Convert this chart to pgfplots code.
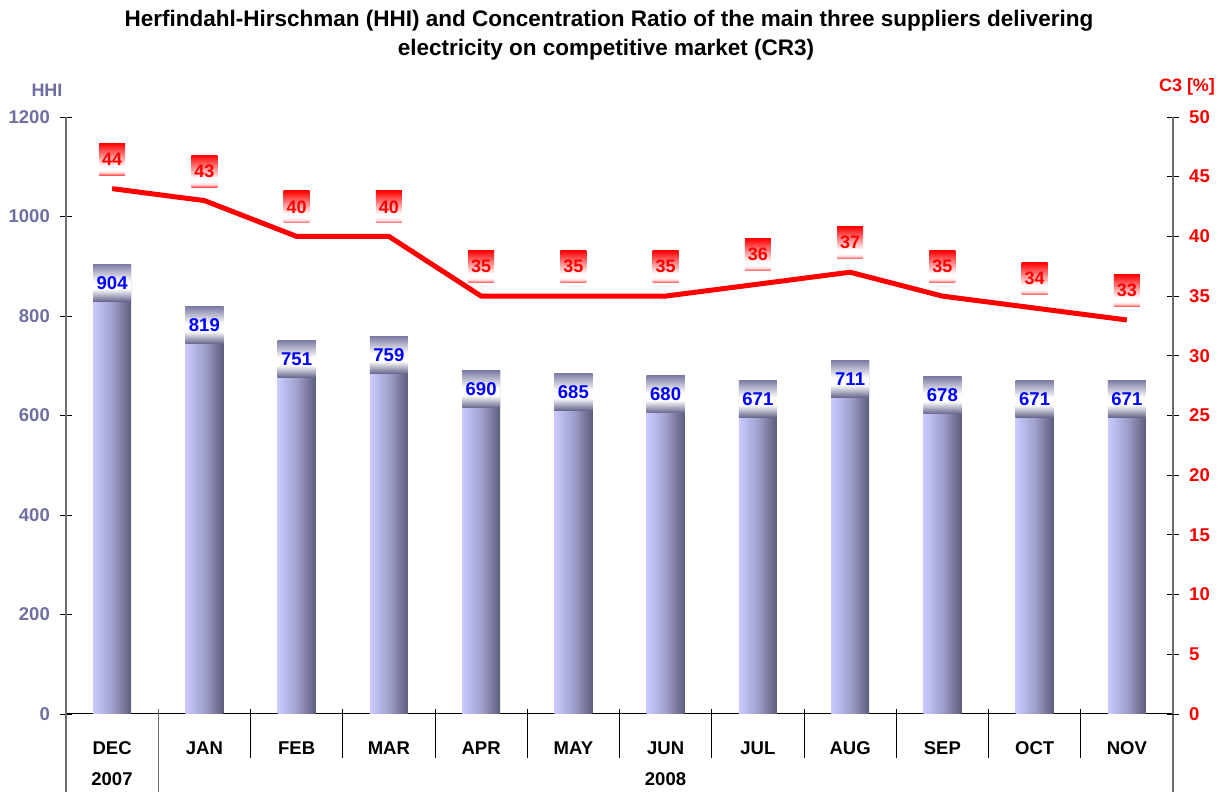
\documentclass[border=0pt]{standalone}
\usepackage{pgfplots}
\pgfplotsset{compat=1.18}
\usepackage{fontspec}
\setmainfont{Liberation Sans}
\definecolor{hhi}{RGB}{110,110,160}
\definecolor{barlight}{RGB}{202,202,255}
\definecolor{barmid}{RGB}{160,160,205}
\definecolor{bardark}{RGB}{92,92,122}
\definecolor{boxdark}{RGB}{100,100,140}
\definecolor{boxtop}{RGB}{125,125,165}
\definecolor{axisgray}{RGB}{110,110,110}
\pgfdeclarehorizontalshading{barshade}{100bp}{color(0bp)=(barlight); color(25bp)=(barlight); color(50bp)=(barmid); color(75bp)=(bardark); color(100bp)=(bardark)}
\pgfdeclareverticalshading{bluebox}{100bp}{color(0bp)=(boxdark); color(25bp)=(boxdark); color(42bp)=(white); color(52bp)=(white); color(75bp)=(boxtop); color(100bp)=(boxtop)}
\pgfdeclareverticalshading{redbox}{100bp}{color(0bp)=(red!70); color(25bp)=(red!70); color(29bp)=(red!15); color(33bp)=(white); color(39bp)=(white); color(75bp)=(red); color(100bp)=(red)}
\newcommand\fs[1]{\bfseries\fontsize{#1}{#1}\selectfont}
\pgfplotsset{
  hhibar/.style={ybar, bar width=38pt, bar shift=0pt, draw=none, shading=barshade,
    nodes near coords,
    nodes near coords style={anchor=north, yshift=0pt, shading=bluebox, draw=none,
      minimum width=38pt, minimum height=37pt, inner sep=0pt, text=blue, font=\fs{18.5}}},
}
\begin{document}
\begin{tikzpicture}
\begin{axis}[
  at={(66pt,78pt)}, anchor=south west,
  scale only axis, width=1107pt, height=597pt,
  xmin=-0.5, xmax=11.5, ymin=0, ymax=1200,
  axis y line*=left, axis x line*=bottom,
  clip=false,
  /pgf/number format/assume math mode=true,
  /pgf/number format/1000 sep={},
  ytick={0,200,...,1200},
  xtick={0,1,...,11},
  xticklabels={DEC,JAN,FEB,MAR,APR,MAY,JUN,JUL,AUG,SEP,OCT,NOV},
  xtick style={draw=none},
  ytick style={black, line width=0.8pt},
  tick align=center, major tick length=12pt,
  y axis line style={axisgray, line width=1.5pt},
  x axis line style={black, line width=1pt},
  xticklabel style={font=\fs{18.5}, text=black, anchor=center, yshift=-28pt},
  yticklabel style={font=\fs{18.5}, text=hhi, anchor=east, inner sep=0pt, xshift=-10pt},
]
\addplot[hhibar] coordinates {(0,904)};
\addplot[hhibar] coordinates {(1,819)};
\addplot[hhibar] coordinates {(2,751)};
\addplot[hhibar] coordinates {(3,759)};
\addplot[hhibar] coordinates {(4,690)};
\addplot[hhibar] coordinates {(5,685)};
\addplot[hhibar] coordinates {(6,680)};
\addplot[hhibar] coordinates {(7,671)};
\addplot[hhibar] coordinates {(8,711)};
\addplot[hhibar] coordinates {(9,678)};
\addplot[hhibar] coordinates {(10,671)};
\addplot[hhibar] coordinates {(11,671)};
\pgfplotsinvokeforeach{1.5,2.5,3.5,4.5,5.5,6.5,7.5,8.5,9.5,10.5}{
  \draw[black, line width=1pt] ([yshift=5pt]axis cs:#1,0) -- ([yshift=-44pt]axis cs:#1,0);
}
\draw[axisgray, line width=1.5pt] ([yshift=5pt]axis cs:0.5,0) -- ([yshift=-78pt]axis cs:0.5,0);
\draw[axisgray, line width=1.5pt] (axis cs:-0.5,0) -- ([yshift=-78pt]axis cs:-0.5,0);
\draw[axisgray, line width=1.5pt] (axis cs:11.5,0) -- ([yshift=-78pt]axis cs:11.5,0);
\end{axis}
\begin{axis}[
  at={(66pt,78pt)}, anchor=south west,
  scale only axis, width=1107pt, height=597pt,
  xmin=-0.5, xmax=11.5, ymin=0, ymax=50,
  axis y line*=right, axis x line=none,
  clip=false,
  /pgf/number format/assume math mode=true,
  ytick={0,5,...,50},
  ytick style={black, line width=0.8pt},
  tick align=center, major tick length=12pt,
  y axis line style={axisgray, line width=1.5pt},
  yticklabel style={font=\fs{18.5}, text=red, anchor=west, inner sep=0pt, xshift=10pt},
]
\addplot[red, line width=5pt, line join=bevel, mark=none,
  nodes near coords,
  nodes near coords style={anchor=south, yshift=11pt, shading=redbox, draw=none,
    minimum width=26pt, minimum height=32pt, inner sep=0pt, text=red, font=\fs{18}}]
  coordinates {(0,44) (1,43) (2,40) (3,40) (4,35) (5,35) (6,35) (7,36) (8,37) (9,35) (10,34) (11,33)};
\end{axis}
\node[font=\fs{22.5}, anchor=base] at (609pt,765pt) {Herfindahl-Hirschman (HHI) and Concentration Ratio of the main three suppliers delivering};
\node[font=\fs{22.5}, anchor=base] at (606pt,736pt) {electricity on competitive market (CR3)};
\node[font=\fs{18}, text=hhi] at (47pt,702pt) {HHI};
\node[font=\fs{18}, text=red] at (1187pt,705pt) {C3 [\%]};
\node[font=\fs{18.5}] at (112pt,13pt) {2007};
\node[font=\fs{18.5}] at (665.5pt,13pt) {2008};
\pgfresetboundingbox
\useasboundingbox (0,0) rectangle (1229pt,792pt);
\end{tikzpicture}
\end{document}
